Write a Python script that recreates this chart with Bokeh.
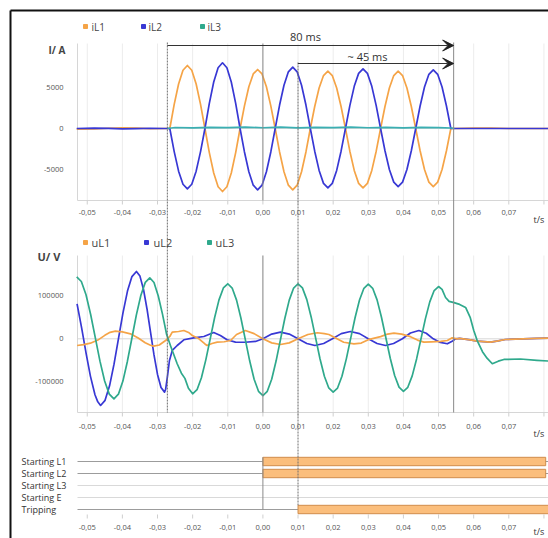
from bokeh.plotting import figure
from bokeh.models import Range1d, Arrow, VeeHead
from bokeh.core.properties import value
from bokeh.embed import file_html
from bokeh.resources import INLINE

# ------------------------------------------------------------------ data
TICKS = [-0.05, -0.04, -0.03, -0.02, -0.01, 0.00, 0.01, 0.02, 0.03, 0.04, 0.05, 0.06, 0.07]
TICK_LABELS = ["-0,05", "-0,04", "-0,03", "-0,02", "-0,01", "0,00", "0,01",
               "0,02", "0,03", "0,04", "0,05", "0,06", "0,07"]
EXTRA_GRID = [0.08]
CUR_TICKS = [5000, 0, -5000]
CUR_TICK_LABELS = ["5000", "0", "-5000"]
VOLT_TICKS = [100000, 0, -100000]
VOLT_TICK_LABELS = ["100000", "0", "-100000"]

CUR_NAMES = ["iL1", "iL2", "iL3"]
VOLT_NAMES = ["uL1", "uL2", "uL3"]
COLORS = ["#F5A447", "#3838D4", "#2FA98C"]
IL3_LINE_COLOR = "#3AAFB2"

# event times (s)
T_FAULT = -0.0272
T_PICKUP = 0.0
T_TRIP = 0.0100
T_CLEAR = 0.0543
ARROW_LABELS = ["80 ms", "~ 45 ms"]

# binary signals
SIGNALS = ["Starting L1", "Starting L2", "Starting L3", "Starting E", "Tripping"]
SIG_ON = [0.0, 0.0, None, None, 0.0100]
SIG_OFF = [0.0805, 0.0805, None, None, 0.0840]

# currents (A)
T_I_PRE = [-0.0530, -0.0480, -0.0440, -0.0400, -0.0360, -0.0320, -0.0280]
IL1_PRE = [-80, -60, 30, 90, 40, -30, 0]
IL2_PRE = [0, 40, 20, -40, -20, 30, 0]

T_I_FLT = [-0.02650, -0.02525, -0.02400, -0.02275, -0.02150, -0.02025, -0.01900, -0.01775,
           -0.01650, -0.01525, -0.01400, -0.01275, -0.01150, -0.01025, -0.00900, -0.00775,
           -0.00650, -0.00525, -0.00400, -0.00275, -0.00150, -0.00025, 0.00100, 0.00225,
           0.00350, 0.00475, 0.00600, 0.00725, 0.00850, 0.00975, 0.01100, 0.01225,
           0.01350, 0.01475, 0.01600, 0.01725, 0.01850, 0.01975, 0.02100, 0.02225,
           0.02350, 0.02475, 0.02600, 0.02725, 0.02850, 0.02975, 0.03100, 0.03225,
           0.03350, 0.03475, 0.03600, 0.03725, 0.03850, 0.03975, 0.04100, 0.04225,
           0.04350, 0.04475, 0.04600, 0.04725, 0.04850, 0.04975, 0.05100, 0.05225,
           0.05350]
IL1_FLT = [0, 2960, 5470, 7150, 7740, 7150, 5470, 2960,
           0, -2960, -5470, -7150, -7740, -7150, -5470, -2960,
           0, 2780, 5130, 6700, 7250, 6700, 5130, 2780,
           0, -2880, -5320, -6960, -7530, -6960, -5320, -2880,
           0, 2700, 4980, 6500, 7040, 6500, 4980, 2700,
           0, -2790, -5150, -6740, -7290, -6740, -5150, -2790,
           0, 2700, 4980, 6500, 7040, 6500, 4980, 2700,
           0, -2730, -5040, -6590, -7130, -6590, -5040, -2730,
           0]
IL2_FLT = [0, -2840, -5240, -6850, -7410, -6850, -5240, -2840,
           0, 3090, 5710, 7460, 8070, 7460, 5710, 3090,
           0, -2880, -5320, -6960, -7530, -6960, -5320, -2880,
           0, 2880, 5320, 6960, 7530, 6960, 5320, 2880,
           0, -2790, -5150, -6740, -7290, -6740, -5150, -2790,
           0, 2810, 5180, 6770, 7330, 6770, 5180, 2810,
           0, -2730, -5040, -6590, -7130, -6590, -5040, -2730,
           0, 2760, 5100, 6660, 7210, 6660, 5100, 2760,
           0]
T_I_POST = [0.0545, 0.0600, 0.0650, 0.0700, 0.0820]
IL1_POST = [0, 40, 60, 0, 0]
IL2_POST = [0, 0, 0, 0, 0]

T_IL3 = [-0.0272, -0.0250, -0.0200, -0.0150, -0.0100, -0.0050, 0.0000, 0.0050, 0.0100,
         0.0150, 0.0200, 0.0250, 0.0300, 0.0350, 0.0400, 0.0450, 0.0500, 0.0535, 0.0545]
IL3 = [0, 120, 80, 150, 100, 170, 90, 160, 80, 150, 100, 160, 90, 150, 80, 140, 100, 60, 0]

# voltages (V)
T_UL1 = [-0.0529, -0.0510, -0.0491, -0.0470, -0.0450, -0.0435, -0.0420, -0.0400, -0.0377,
         -0.0355, -0.0335, -0.0320, -0.0311, -0.0295, -0.0277, -0.0265, -0.0258, -0.0240,
         -0.0225, -0.0210, -0.0201, -0.0182, -0.0165, -0.0159, -0.0145, -0.0130, -0.0110,
         -0.0092, -0.0075, -0.0050, -0.0025, 0.0000, 0.0025, 0.0050, 0.0075, 0.0100,
         0.0128, 0.0155, 0.0175, 0.0188, 0.0200, 0.0230, 0.0259, 0.0280, 0.0300, 0.0335,
         0.0355, 0.0373, 0.0395, 0.0420, 0.0440, 0.0458, 0.0480, 0.0506, 0.0525, 0.0539,
         0.0553, 0.0560, 0.0590, 0.0610, 0.0648, 0.0670, 0.0690, 0.0740, 0.0780, 0.0820]
U_L1 = [-15600, -13500, -10200, -3000, 8000, 15000, 17700, 16000, 11600,
        2000, -9000, -15000, -17200, -14500, -4000, 5400, 15400, 17000,
        19300, 14000, 7700, 0, -12000, -15600, -11000, -7800, -6800,
        -4000, 10000, 19300, 12000, 0, -9500, -13200, -9500, 0,
        10000, 14000, 12000, 10000, 5000, -8000, -11600, -10000, -2000, 5000,
        11000, 13000, 11000, 5000, -3000, -7800, -7000, -6200, -4000, 2300,
        0, 1000, -2500, -5400, -7800, -5000, -1600, 0, 1000, 1500]

T_UL2 = [-0.0529, -0.0516, -0.0503, -0.0491, -0.0478, -0.0470, -0.0462,
         -0.04493, -0.04365, -0.04238, -0.0411, -0.03983, -0.03855, -0.03728, -0.0360,
         -0.0350, -0.0340, -0.0330, -0.0320, -0.0310, -0.0300, -0.0290, -0.0280,
         -0.0277, -0.0272, -0.0266, -0.0258, -0.0244, -0.0225, -0.0197, -0.0168,
         -0.0140, -0.0121, -0.0102, -0.0078, -0.0050, -0.0021, 0.0000,
         0.0025, 0.0050, 0.0075, 0.0100, 0.0125, 0.0148, 0.0173, 0.0198,
         0.0223, 0.0249, 0.0275, 0.0300, 0.0325, 0.0349, 0.0372, 0.0397,
         0.0420, 0.0444, 0.0465, 0.0485, 0.0505, 0.0525, 0.0540, 0.0548,
         0.0560, 0.0590, 0.0610, 0.0648, 0.0670, 0.0690, 0.0740, 0.0780, 0.0820]
U_L2 = [81400, 25600, -34900, -86700, -130000, -146600, -155000,
        -143100, -109400, -58900, 750, 60400, 110900, 144700, 156500,
        145800, 115400, 69900, 16250, -37500, -82900, -113300, -124000,
        -118000, -89000, -50500, -27000, -15600, -2300, 2300, 5400,
        14600, 7700, -2300, -7800, -8000, -6200, 0,
        11000, 15400, 11000, 0, -11000, -15600, -11000, 0,
        12000, 17000, 12000, 0, -11000, -15600, -11000, 0,
        13600, 19300, 13000, 0, -8500, -11600, -5000, 0,
        1000, -2500, -5400, -7800, -5000, -1600, 0, 1000, 1500]

T_UL3 = [-0.0530, -0.05168, -0.05035, -0.04903, -0.0477, -0.04638, -0.04505, -0.04373, -0.0424,
         -0.04113, -0.03985, -0.03858, -0.0373, -0.03603, -0.03475, -0.03348, -0.0322,
         -0.0310, -0.0298, -0.0286, -0.0274, -0.0263, -0.0244, -0.0232, -0.0222, -0.0212,
         -0.0200, -0.01875, -0.0175, -0.01625, -0.0150, -0.01375, -0.0125, -0.01125, -0.0100,
         -0.00875, -0.0075, -0.00625, -0.0050, -0.00375, -0.0025, -0.00125, 0.0000,
         0.00125, 0.0025, 0.00375, 0.0050, 0.00625, 0.0075, 0.00875, 0.0100,
         0.01125, 0.0125, 0.01375, 0.0150, 0.01625, 0.0175, 0.01875, 0.0200,
         0.02125, 0.0225, 0.02375, 0.0250, 0.02625, 0.0275, 0.02875, 0.0300,
         0.03125, 0.0325, 0.03375, 0.0350, 0.03625, 0.0375, 0.03875, 0.0400,
         0.04125, 0.0425, 0.04375, 0.0450, 0.04625, 0.0475, 0.04875, 0.0500,
         0.0510, 0.0520, 0.0530, 0.0544, 0.0560, 0.0577, 0.0590, 0.0600, 0.0610,
         0.0625, 0.0638, 0.0653, 0.0670, 0.0686, 0.0733, 0.0780, 0.0820]
U_L3 = [144000, 133200, 102500, 56500, 2250, -52000, -98000, -128700, -139500,
        -128800, -98300, -52700, 1200, 55100, 100700, 131200, 141900,
        131000, 100000, 58000, 10000, -16000, -58000, -80000, -92000, -115000,
        -128000, -118300, -90500, -49000, 0, 49000, 90500, 118300, 128000,
        118100, 89900, 47800, -2000, -51800, -93900, -122100, -132000,
        -122100, -93900, -51800, -2000, 47800, 89900, 118100, 128000,
        118400, 91100, 50300, 2000, -46300, -87100, -114400, -124000,
        -114500, -87200, -46600, 1500, 49600, 90200, 117500, 127000,
        117500, 90500, 50200, 2500, -45200, -85500, -112500, -122000,
        -112700, -86300, -46800, -200, 46400, 85900, 112300, 121600,
        115000, 96000, 87000, 84000, 80000, 73000, 50000, 20000, -4000,
        -30000, -45000, -58000, -52000, -48000, -47000, -50000, -52000]

# ------------------------------------------------------------------ layout
FONT = "Open Sans"
W, H = 548, 538
PAGE_L, PAGE_T = 0, 0            # picture coordinates of the canvas origin
PAGE_R, PAGE_B = PAGE_L + W, PAGE_T + H
X0, SX = 262.4, 3513.0           # picture x of t=0, px per second

CUR_Y0, CUR_S = 128.0, 40.7 / 5000.0
VOLT_Y0, VOLT_S = 338.3, 43.0 / 100000.0
ROW_Y0, ROW_S = 461.0, 12.0

PLOT_L = 77
CUR_TOP, CUR_BOT = 43, 200
VOLT_TOP, VOLT_BOT = 255, 412
ROWS_TICK_Y = 514


def t_at(px):
    return (px - X0) / SX


p = figure(width=W, height=H, output_backend="svg", toolbar_location=None,
           x_axis_type=None, y_axis_type=None, min_border=0, title=None,
           x_range=Range1d(t_at(PAGE_L), t_at(PAGE_R)),
           y_range=Range1d(PAGE_B, PAGE_T))
p.outline_line_color = None
p.background_fill_color = "white"
p.border_fill_color = "white"
p.extra_x_ranges = {"px": Range1d(PAGE_L, PAGE_R)}
p.extra_y_ranges = {
    "px": Range1d(PAGE_B, PAGE_T),
    "cur": Range1d((CUR_Y0 - PAGE_B) / CUR_S, (CUR_Y0 - PAGE_T) / CUR_S),
    "volt": Range1d((VOLT_Y0 - PAGE_B) / VOLT_S, (VOLT_Y0 - PAGE_T) / VOLT_S),
    "rows": Range1d((PAGE_B - ROW_Y0) / ROW_S, (PAGE_T - ROW_Y0) / ROW_S),
}


def seg(x0, y0, x1, y1, xr="default", yr="default", **kw):
    p.segment(x0=x0, y0=y0, x1=x1, y1=y1, x_range_name=xr, y_range_name=yr, **kw)


def txt(xs, ys, texts, xr="default", yr="default", size="7.5px", color="#555",
        align="center", baseline="middle", style="normal"):
    p.text(x=xs, y=ys, text=texts, x_range_name=xr, y_range_name=yr,
           text_font=value(FONT), text_font_size=size, text_color=color,
           text_align=align, text_baseline=baseline, text_font_style=style)


GRID_T = TICKS + EXTRA_GRID
n = len(GRID_T)
nt = len(TICKS)

# ---- panel frames / grids
for top, bot in ((CUR_TOP, CUR_BOT), (VOLT_TOP, VOLT_BOT)):
    seg(GRID_T, [top] * n, GRID_T, [bot] * n, yr="px", line_color="#ececec", line_width=1)
    seg([PLOT_L], [top], [PLOT_L], [bot], xr="px", yr="px", line_color="#d6d6d6", line_width=1)
    seg([PLOT_L], [bot], [PAGE_R], [bot], xr="px", yr="px", line_color="#d6d6d6", line_width=1)
    seg(GRID_T, [bot] * n, GRID_T, [bot + 4] * n, yr="px", line_color="#cfcfcf", line_width=1)

seg([PLOT_L], [0], [PAGE_R], [0], xr="px", yr="cur", line_color="#d8d8d8", line_width=1)
seg([PLOT_L], [0], [PAGE_R], [0], xr="px", yr="volt", line_color="#d8d8d8", line_width=1)
seg(GRID_T, [ROWS_TICK_Y] * n, GRID_T, [ROWS_TICK_Y + 4] * n, yr="px",
    line_color="#cfcfcf", line_width=1)

# ---- binary-signal rows
rows = list(range(len(SIGNALS)))
row_cols = ["#9c9c9c" if on is not None else "#d9d9d9" for on in SIG_ON]
seg([PLOT_L] * len(rows), rows, [PAGE_R] * len(rows), rows, xr="px", yr="rows",
    line_color=row_cols, line_width=1.2)
bar_rows = [r for r, on in zip(rows, SIG_ON) if on is not None]
bar_on = [on for on in SIG_ON if on is not None]
bar_off = [off for off in SIG_OFF if off is not None]
p.hbar(y=bar_rows, left=bar_on, right=bar_off, height=0.7, y_range_name="rows",
       fill_color="#FBBE7C", line_color="#D08D4C", line_width=1)
txt([21] * len(SIGNALS), rows, SIGNALS, xr="px", yr="rows", size="9px",
    color="#333", align="left")

# ---- currents
T_IL = T_I_PRE + T_I_FLT + T_I_POST
p.line(T_IL, IL1_PRE + IL1_FLT + IL1_POST, y_range_name="cur", line_color=COLORS[0],
       line_width=1.7, line_join="round")
p.line(T_IL, IL2_PRE + IL2_FLT + IL2_POST, y_range_name="cur", line_color=COLORS[1],
       line_width=1.7, line_join="round")
p.line(T_IL3, IL3, y_range_name="cur", line_color=IL3_LINE_COLOR, line_width=1.7,
       line_join="round")

# ---- voltages
p.line(T_UL2, U_L2, y_range_name="volt", line_color=COLORS[1], line_width=1.7, line_join="round")
p.line(T_UL1, U_L1, y_range_name="volt", line_color=COLORS[0], line_width=1.7, line_join="round")
p.line(T_UL3, U_L3, y_range_name="volt", line_color=COLORS[2], line_width=1.7, line_join="round")

# ---- event markers
seg([T_FAULT], [42], [T_FAULT], [VOLT_BOT], yr="px", line_color="#6e6e6e", line_width=1,
    line_dash="2 1")
seg([T_CLEAR], [42], [T_CLEAR], [VOLT_BOT], yr="px", line_color="#8a8a8a", line_width=1)
seg([T_TRIP], [62], [T_TRIP], [ROW_Y0 + ROW_S * 3.65], yr="px", line_color="#6e6e6e",
    line_width=1, line_dash="2 1")
seg([T_PICKUP] * 3, [CUR_TOP, VOLT_TOP, ROW_Y0 - ROW_S * 0.35],
    [T_PICKUP] * 3, [CUR_BOT, VOLT_BOT, ROW_Y0 + ROW_S * 4],
    yr="px", line_color="#8a8a8a", line_width=1)

for xs, y in ((T_FAULT, 45), (T_TRIP, 63)):
    p.add_layout(Arrow(end=VeeHead(size=11, fill_color="#222", line_color="#222"),
                       x_start=xs, y_start=y, x_end=T_CLEAR, y_end=y,
                       y_range_name="px", line_color="#333", line_width=1.2))
txt([305, 367], [36, 56], ARROW_LABELS, xr="px", yr="px", size="11px", color="#333")

# ---- tick labels
txt(TICKS, [212] * nt, TICK_LABELS, yr="px")
txt(TICKS, [426] * nt, TICK_LABELS, yr="px")
txt(TICKS, [527] * nt, TICK_LABELS, yr="px")
txt([63] * 3, CUR_TICKS, CUR_TICK_LABELS, xr="px", yr="cur", align="right")
txt([63] * 3, VOLT_TICKS, VOLT_TICK_LABELS, xr="px", yr="volt", align="right")
txt([533, 533, 533], [219, 433, 531], ["t/s", "t/s", "t/s"], xr="px", yr="px",
    size="9px", color="#333", align="left")
txt([48], [49], ["I/ A"], xr="px", yr="px", size="10px", color="#444", align="left",
    style="bold")
txt([37], [256], ["U/ V"], xr="px", yr="px", size="11px", color="#444", align="left",
    style="bold")

# ---- legends
p.scatter([85, 143, 202], [26] * 3, x_range_name="px", y_range_name="px",
          marker="square", size=4, color=COLORS)
txt([91, 148, 207], [26] * 3, CUR_NAMES, xr="px", yr="px", size="10px",
    color="#444", align="left")
p.scatter([85, 146, 209], [242] * 3, x_range_name="px", y_range_name="px",
          marker="square", size=4, color=COLORS)
txt([91, 153, 215], [242] * 3, VOLT_NAMES, xr="px", yr="px", size="11px",
    color="#444", align="left")

# ---- outer frame
seg([10, 10], [10, 10], [PAGE_R + 5, 10], [10, PAGE_B + 5], xr="px", yr="px",
    line_color="#111", line_width=2)

open("out.html", "w").write(file_html(p, INLINE))
